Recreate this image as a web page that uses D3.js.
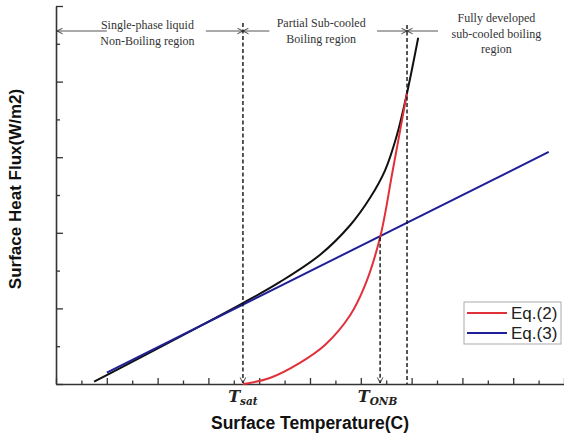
<!DOCTYPE html>
<html>
<head>
<meta charset="utf-8">
<script src="https://cdn.jsdelivr.net/npm/d3@7"></script>
<style>
  body { margin: 0; background: #fff; }
  svg { display: block; }
</style>
</head>
<body>
<div id="chart"></div>
<script>
// Curves (x and y in major-tick units)
const eq2X = [3.68, 4.21, 4.80, 5.30, 5.79, 6.08, 6.38, 6.63, 6.91];
const eq2Y = [0.00, 0.08, 0.28, 0.52, 0.91, 1.30, 1.94, 2.83, 3.85];

const eq3X = [1.00, 9.70];
const eq3Y = [0.15, 3.07];

const totalX = [0.75, 3.68, 4.41, 5.20, 5.79, 6.18, 6.48, 6.71, 6.91, 7.13];
const totalY = [0.03, 1.07, 1.35, 1.71, 2.10, 2.46, 2.83, 3.29, 3.85, 4.58];

// Characteristic temperatures on the x axis
const tSat = 3.68;
const tOnb = 6.38;
const tFdb = 6.91;

const xMajor = d3.range(0, 11, 1);
const xMinor = d3.range(0.5, 10, 1);
const yMajor = d3.range(0, 6, 1);
const yMinor = d3.range(0.5, 5, 1);

const regionLabels = [
  { x: 1.80, lines: ['Single-phase liquid', 'Non-Boiling region'], top: 25 },
  { x: 5.22, lines: ['Partial Sub-cooled', 'Boiling region'], top: 23 },
  { x: 8.67, lines: ['Fully developed', 'sub-cooled boiling', 'region'], top: 18 }
];

const legendItems = [
  { name: 'Eq.(2)', color: '#e2303a' },
  { name: 'Eq.(3)', color: '#1f1f9a' }
];

const W = 564, H = 439;
const margin = { top: 6, right: 0, bottom: 55, left: 56 };

const svg = d3.select('#chart').append('svg')
  .attr('width', W)
  .attr('height', H);

const x = d3.scaleLinear().domain([0, 10]).range([margin.left, W - margin.right]);
const y = d3.scaleLinear().domain([0, 5]).range([H - margin.bottom, margin.top]);

const axisColor = '#333';

// arrow markers
const defs = svg.append('defs');
defs.append('marker')
  .attr('id', 'open-arrow')
  .attr('viewBox', '0 0 10 10')
  .attr('refX', 9).attr('refY', 5)
  .attr('markerWidth', 7).attr('markerHeight', 7)
  .attr('markerUnits', 'userSpaceOnUse')
  .attr('orient', 'auto')
  .append('path')
  .attr('d', 'M1,1 L9,5 L1,9')
  .attr('fill', 'none')
  .attr('stroke', '#222')
  .attr('stroke-width', 1.2);

// axes
svg.append('g')
  .attr('transform', `translate(0,${y(0)})`)
  .call(d3.axisBottom(x).tickValues(xMajor).tickSizeInner(-6).tickSizeOuter(0).tickFormat(''));
svg.append('g')
  .attr('transform', `translate(0,${y(0)})`)
  .call(d3.axisBottom(x).tickValues(xMinor).tickSizeInner(-3.5).tickSizeOuter(0).tickFormat(''))
  .select('.domain').remove();

svg.append('g')
  .attr('transform', `translate(${x(0)},0)`)
  .call(d3.axisLeft(y).tickValues(yMajor).tickSizeInner(-7).tickSizeOuter(0).tickFormat(''));
svg.append('g')
  .attr('transform', `translate(${x(0)},0)`)
  .call(d3.axisLeft(y).tickValues(yMinor).tickSizeInner(-4).tickSizeOuter(0).tickFormat(''))
  .select('.domain').remove();

svg.selectAll('.domain').attr('stroke', axisColor).attr('stroke-width', 1.6);
svg.selectAll('.tick line').attr('stroke', axisColor).attr('stroke-width', 1.3);

// curves
const line = d3.line().x(d => x(d[0])).y(d => y(d[1])).curve(d3.curveCatmullRom.alpha(0.5));

svg.append('path')
  .datum(d3.zip(totalX, totalY))
  .attr('d', line)
  .attr('fill', 'none')
  .attr('stroke', '#111')
  .attr('stroke-width', 2);

svg.append('path')
  .datum(d3.zip(eq3X, eq3Y))
  .attr('d', line)
  .attr('fill', 'none')
  .attr('stroke', legendItems[1].color)
  .attr('stroke-width', 2);

svg.append('path')
  .datum(d3.zip(eq2X, eq2Y))
  .attr('d', line)
  .attr('fill', 'none')
  .attr('stroke', legendItems[0].color)
  .attr('stroke-width', 2);

// vertical dashed boundaries
const yTop = 23;
const dashed = (x1, y1, x2, y2, arrow) => {
  const l = svg.append('line')
    .attr('x1', x1).attr('y1', y1).attr('x2', x2).attr('y2', y2)
    .attr('stroke', '#111')
    .attr('stroke-width', 1.4)
    .attr('stroke-dasharray', '4,2.5');
  if (arrow) l.attr('marker-end', 'url(#open-arrow)');
};
dashed(x(tSat), yTop, x(tSat), y(0) - 1, true);
dashed(x(tOnb), y(1.94), x(tOnb), y(0) - 1, true);
dashed(x(tFdb), yTop + 2, x(tFdb), y(0), false);

// horizontal region arrows
const arrowY = 31;
const hArrows = [
  [1.0, 0.02],
  [2.95, tSat],
  [4.2, tSat],
  [6.32, tFdb],
  [7.52, tFdb]
];
hArrows.forEach(a => {
  svg.append('line')
    .attr('x1', x(a[0])).attr('y1', arrowY)
    .attr('x2', x(a[1])).attr('y2', arrowY)
    .attr('stroke', '#555')
    .attr('stroke-width', 1)
    .attr('marker-end', 'url(#open-arrow)');
});

// region labels
regionLabels.forEach(r => {
  const t = svg.append('text')
    .attr('text-anchor', 'middle')
    .attr('font-family', '"Liberation Serif", "Times New Roman", serif')
    .attr('font-size', 12)
    .attr('fill', '#333');
  r.lines.forEach((s, i) => {
    t.append('tspan')
      .attr('x', x(r.x))
      .attr('y', r.top + 4 + i * 15.5)
      .text(s);
  });
});

// temperature labels
const tLabel = (xv, sub) => {
  const t = svg.append('text')
    .attr('x', x(xv))
    .attr('y', 402)
    .attr('text-anchor', 'middle')
    .attr('font-family', '"DejaVu Serif", "Liberation Serif", serif')
    .attr('font-style', 'italic')
    .attr('font-weight', 'bold')
    .attr('fill', '#222')
    .attr('font-size', 16);
  t.append('tspan').text('T');
  t.append('tspan').attr('font-size', 10.5).attr('dy', 3).text(sub);
};
tLabel(tSat, 'sat');
tLabel(tOnb - 0.05, 'ONB');

// axis titles
svg.append('text')
  .attr('x', 310)
  .attr('y', 429)
  .attr('text-anchor', 'middle')
  .attr('font-family', '"Liberation Sans", Arial, sans-serif')
  .attr('font-weight', 'bold')
  .attr('font-size', 17.5)
  .attr('fill', '#111')
  .text('Surface Temperature(C)');

svg.append('text')
  .attr('transform', `translate(21,${y(2.5) - 6}) rotate(-90)`)
  .attr('text-anchor', 'middle')
  .attr('font-family', '"Liberation Sans", Arial, sans-serif')
  .attr('font-weight', 'bold')
  .attr('font-size', 17)
  .attr('fill', '#111')
  .text('Surface Heat Flux(W/m2)');

// legend
const legend = svg.append('g').attr('transform', 'translate(464,302)');
legend.append('rect')
  .attr('width', 97).attr('height', 42)
  .attr('fill', '#fff')
  .attr('stroke', '#aaa')
  .attr('stroke-width', 1);
legendItems.forEach((d, i) => {
  const g = legend.append('g').attr('transform', `translate(0,${11 + i * 20})`);
  g.append('line')
    .attr('x1', 3).attr('x2', 43)
    .attr('stroke', d.color).attr('stroke-width', 2);
  g.append('text')
    .attr('x', 47).attr('y', 6)
    .attr('font-family', '"Liberation Sans", Arial, sans-serif')
    .attr('font-size', 17)
    .attr('fill', '#222')
    .text(d.name);
});
</script>
</body>
</html>
